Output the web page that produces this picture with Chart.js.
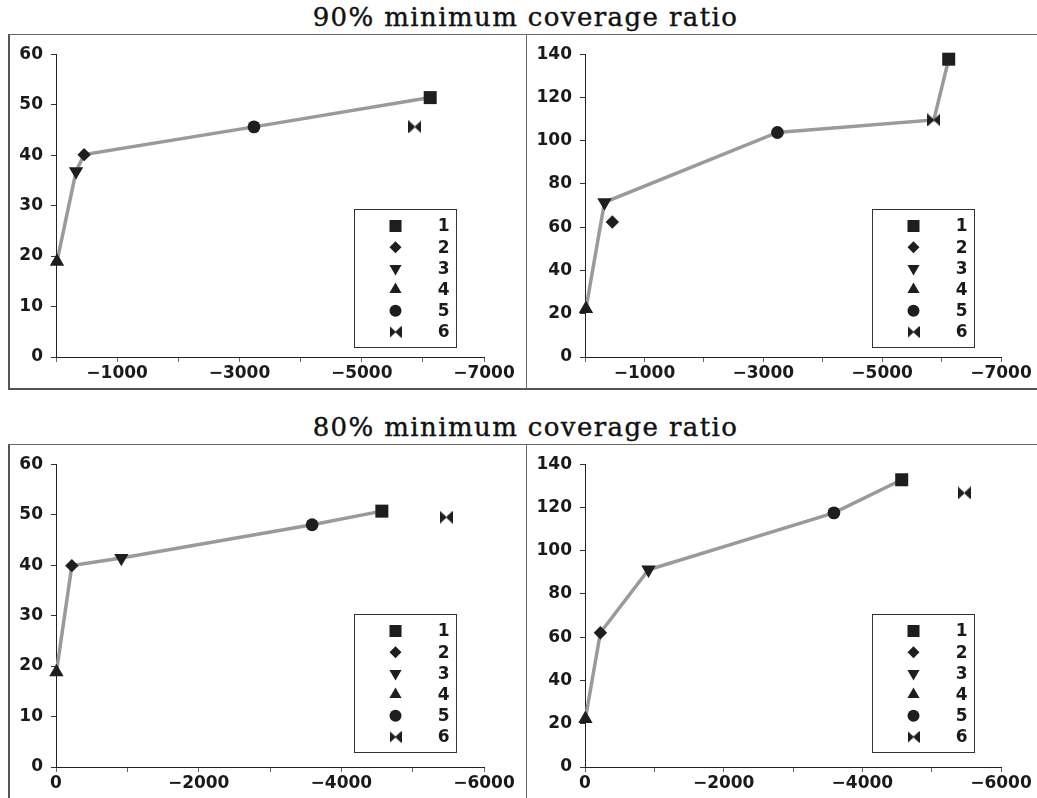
<!DOCTYPE html>
<html>
<head>
<meta charset="utf-8">
<script src="https://cdn.jsdelivr.net/npm/chart.js@4.4.1/dist/chart.umd.min.js"></script>
<style>
  html, body { margin: 0; padding: 0; background: #fff; }
  body { width: 1037px; height: 798px; position: relative; overflow: hidden; }
  canvas { position: absolute; }
  .title { position: absolute; left: 7px; width: 1037px; text-align: center;
           font-family: "DejaVu Serif", serif; font-size: 26px; letter-spacing: 1.4px;
           color: #111; line-height: 30px; -webkit-text-stroke: 0.4px #111; }
  .frame { position: absolute; border-left: 2px solid #555; border-top: 1px solid #666; }
  .frame.top { border-bottom: 2px solid #555; }
  .divider { position: absolute; width: 0; border-left: 1px solid #666; }
</style>
</head>
<body>
<div class="title" style="top:2px">90% minimum coverage ratio</div>
<div class="title" style="top:412px">80% minimum coverage ratio</div>

<div class="frame top" style="left:8px; top:34px; width:1040px; height:353px;"></div>
<div class="divider" style="left:526px; top:34px; height:355px;"></div>
<div class="frame" style="left:8px; top:444px; width:1040px; height:360px;"></div>
<div class="divider" style="left:526px; top:444px; height:360px;"></div>

<canvas id="cA" width="514" height="352" style="left:10px; top:36px; width:514px; height:352px;"></canvas>
<canvas id="cB" width="509" height="352" style="left:528px; top:36px; width:509px; height:352px;"></canvas>
<canvas id="cC" width="514" height="352" style="left:10px; top:446px; width:514px; height:352px;"></canvas>
<canvas id="cD" width="509" height="352" style="left:528px; top:446px; width:509px; height:352px;"></canvas>

<script>
// ---------------- data ----------------
const solutionLabels = ['1', '2', '3', '4', '5', '6'];

// 90% minimum coverage ratio
const x90 = [-6120, -460, -328, -16, -3238, -5870];
const yLeft90 = [51.4, 40.1, 36.8, 18.9, 45.6, 45.6];
const yRight90 = [137.7, 62.4, 71.5, 22.3, 103.8, 109.6];
const frontLeft90 = [4, 3, 2, 5, 1];
const frontRight90 = [4, 3, 5, 6, 1];

// 80% minimum coverage ratio
const x80 = [-4568, -222, -916, -6, -3590, -5471];
const yLeft80 = [50.7, 39.9, 41.4, 18.8, 48.0, 49.5];
const yRight80 = [132.8, 62.1, 91.2, 22.3, 117.5, 126.7];
const frontLeft80 = [4, 2, 3, 5, 1];
const frontRight80 = [4, 2, 3, 5, 1];

// axis settings
const xTicks90 = { min: -7000, max: 0, step: 1000, labelEvery: 'odd' };
const xTicks80 = { min: -6000, max: 0, step: 1000, labelEvery: 'even' };
const yTicksLeft = { min: 0, max: 60, step: 10 };
const yTicksRight = { min: 0, max: 140, step: 20 };

// ---------------- styles ----------------
const markColor = '#1f1d1e';
const lineColor = '#9a9a9a';
const sansFamily = "'DejaVu Sans', Verdana, sans-serif";
const fontSize = 17;

Chart.defaults.font.family = sansFamily;
Chart.defaults.font.size = fontSize;
Chart.defaults.font.weight = 'bold';
Chart.defaults.color = '#1a1a1a';

function makeBowtie(size) {
  const c = document.createElement('canvas');
  c.width = size; c.height = size;
  const g = c.getContext('2d');
  g.fillStyle = markColor;
  g.beginPath();
  g.moveTo(0, 0); g.lineTo(size / 2 + 0.5, size / 2); g.lineTo(0, size); g.closePath();
  g.moveTo(size, 0); g.lineTo(size / 2 - 0.5, size / 2); g.lineTo(size, size); g.closePath();
  g.fill();
  return c;
}
const bowBig = makeBowtie(13);
const bowSmall = makeBowtie(12);

const markerStyles = ['rect', 'rectRot', 'triangle', 'triangle', 'circle', bowBig];
const legendStyles = ['rect', 'rectRot', 'triangle', 'triangle', 'circle', bowSmall];
const markerRot = [0, 0, 180, 0, 0, 0];
const markerRad = [9.2, 6.7, 8.3, 8.3, 6.4, 6];
const legendRad = [8.5, 6, 7, 7, 6, 6];

const fmtTick = v => v === 0 ? '0' : (v < 0 ? '\u2212' + Math.abs(v) : String(v));

const legendBox = {
  id: 'legendBox',
  afterDatasetsDraw(chart, args, opts) {
    const { ctx, chartArea } = chart;
    const w = 102, h = 138;
    const bx = Math.round(chartArea.right - opts.right - w) + 0.5;
    const by = Math.round(chartArea.bottom - opts.bottom - h) + 0.5;
    ctx.save();
    ctx.fillStyle = '#fff';
    ctx.fillRect(bx, by, w, h);
    ctx.strokeStyle = '#333';
    ctx.lineWidth = 1;
    ctx.strokeRect(bx, by, w, h);
    solutionLabels.forEach((lab, i) => {
      const yy = by + 16.5 + i * 21.2;
      ctx.fillStyle = markColor;
      Chart.helpers.drawPoint(ctx, {
        pointStyle: legendStyles[i], rotation: markerRot[i],
        radius: legendRad[i], borderWidth: 0
      }, bx + 41, yy);
      ctx.fillStyle = '#1a1a1a';
      ctx.font = 'bold ' + fontSize + 'px ' + sansFamily;
      ctx.textAlign = 'right';
      ctx.textBaseline = 'middle';
      ctx.fillText(lab, bx + 95, yy + 1);
    });
    ctx.restore();
  }
};

function buildChart(id, xs, ys, front, xt, yt, geo) {
  const datasets = solutionLabels.map((lab, i) => ({
    type: 'scatter',
    label: lab,
    data: [{ x: xs[i], y: ys[i] }],
    pointStyle: markerStyles[i],
    pointRotation: markerRot[i],
    pointRadius: markerRad[i],
    backgroundColor: markColor,
    borderColor: markColor,
    borderWidth: 0,
    clip: false
  }));
  datasets.push({
    type: 'line',
    label: 'front',
    data: front.map(k => ({ x: xs[k - 1], y: ys[k - 1] })),
    borderColor: lineColor,
    borderWidth: 3.5,
    pointRadius: 0,
    fill: false,
    tension: 0,
    clip: false
  });

  return new Chart(document.getElementById(id), {
    type: 'scatter',
    data: { datasets },
    options: {
      responsive: false,
      animation: false,
      devicePixelRatio: 1,
      layout: { padding: { left: 0, top: geo.top, right: geo.right, bottom: 0 } },
      plugins: {
        legend: { display: false },
        tooltip: { enabled: false },
        legendBox: { right: geo.legRight, bottom: geo.legBottom }
      },
      scales: {
        x: {
          type: 'linear',
          reverse: true,
          min: xt.min, max: xt.max,
          afterBuildTicks: s => {
            const t = [];
            for (let v = xt.min; v <= xt.max; v += xt.step) t.push({ value: v });
            s.ticks = t;
          },
          afterFit: s => { s.height = geo.xh; },
          grid: { drawOnChartArea: false, drawTicks: true, tickLength: 5, color: '#666', lineWidth: 1 },
          border: { display: true, color: '#222', width: 1 },
          ticks: {
            autoSkip: false, maxRotation: 0, padding: 1,
            color: '#1a1a1a',
            font: { family: sansFamily, weight: 'bold', size: fontSize },
            callback: v => {
              const k = Math.round(Math.abs(v) / 1000);
              const show = xt.labelEvery === 'odd' ? (k % 2 === 1) : (k % 2 === 0);
              return show ? fmtTick(v) : '';
            }
          }
        },
        y: {
          type: 'linear',
          min: yt.min, max: yt.max,
          afterBuildTicks: s => {
            const t = [];
            for (let v = yt.min; v <= yt.max; v += yt.step) t.push({ value: v });
            s.ticks = t;
          },
          afterFit: s => { s.width = geo.yw; },
          grid: { drawOnChartArea: false, drawTicks: true, tickLength: 5, color: '#333', lineWidth: 1 },
          border: { display: true, color: '#222', width: 1 },
          ticks: {
            autoSkip: false, padding: 8,
            color: '#1a1a1a',
            font: { family: sansFamily, weight: 'bold', size: fontSize },
            callback: v => fmtTick(v)
          }
        }
      }
    },
    plugins: [legendBox]
  });
}

const geoLeftTop = { top: 15, right: 40, xh: 31, yw: 46, legRight: 28, legBottom: 10 };
const geoRightTop = { top: 15, right: 36, xh: 31, yw: 57, legRight: 27, legBottom: 10 };
const geoLeftBot = { top: 15, right: 40, xh: 31, yw: 46, legRight: 28, legBottom: 15 };
const geoRightBot = { top: 15, right: 36, xh: 31, yw: 57, legRight: 27, legBottom: 15 };

buildChart('cA', x90, yLeft90, frontLeft90, xTicks90, yTicksLeft, geoLeftTop);
buildChart('cB', x90, yRight90, frontRight90, xTicks90, yTicksRight, geoRightTop);
buildChart('cC', x80, yLeft80, frontLeft80, xTicks80, yTicksLeft, geoLeftBot);
buildChart('cD', x80, yRight80, frontRight80, xTicks80, yTicksRight, geoRightBot);
</script>
</body>
</html>
